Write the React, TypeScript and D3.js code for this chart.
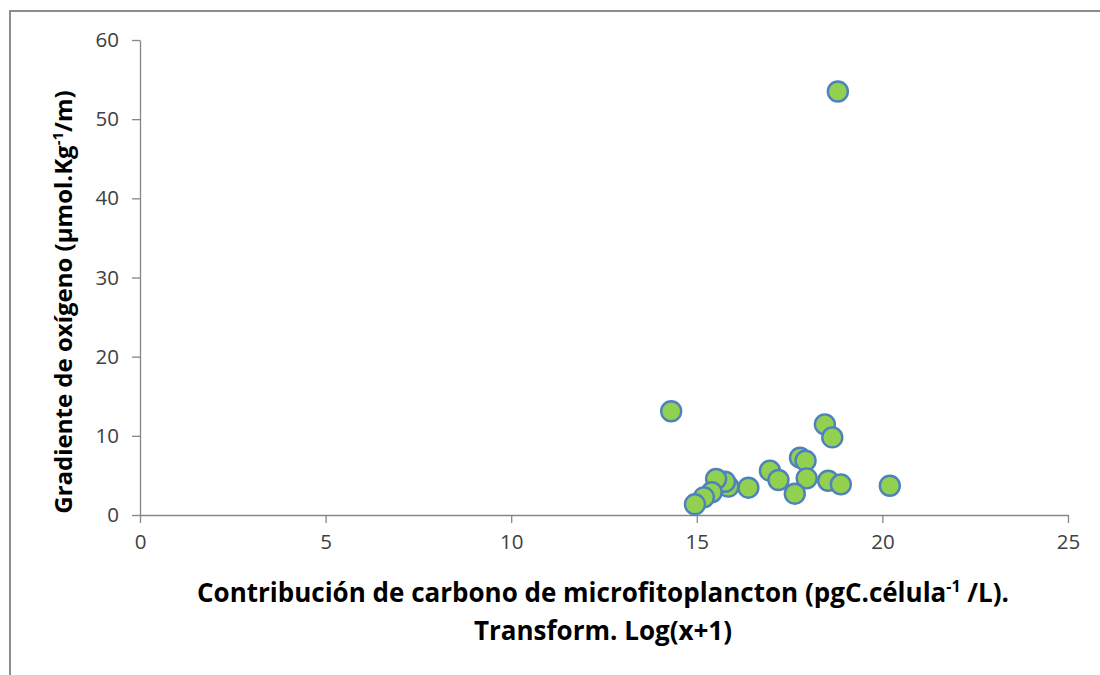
import React, { useEffect, useRef } from 'react'
import * as d3 from 'd3'

// Contribución de carbono (log(x+1)) vs gradiente de oxígeno
const carbon = [
  18.8, 14.31, 18.45, 18.65, 17.78, 17.93, 16.97, 17.2, 17.96, 18.54, 18.88,
  20.2, 17.64, 16.39, 15.85, 15.76, 15.52, 15.4, 15.19, 14.95,
]
const oxygen = [
  53.5, 13.1, 11.45, 9.8, 7.24, 6.86, 5.6, 4.42, 4.63, 4.33, 3.87, 3.7, 2.69,
  3.45, 3.58, 4.2, 4.55, 2.87, 2.23, 1.35,
]
const xTicks = [0, 5, 10, 15, 20, 25]
const yTicks = [0, 10, 20, 30, 40, 50, 60]

export default function App(): React.ReactElement {
  const chartRef = useRef<HTMLDivElement>(null)

  useEffect(() => {
    const width = 1100
    const height = 675
    const font = '"Open Sans", sans-serif'
    const axisColor = '#868686'

    const points = carbon.map((c, i) => ({ x: c, y: oxygen[i] }))

    const x = d3.scaleLinear().domain([0, 25]).range([140, 1068])
    const y = d3.scaleLinear().domain([0, 60]).range([515, 40])

    d3.select(chartRef.current).select('svg').remove()

    const svg = d3
      .select(chartRef.current)
      .append('svg')
      .attr('width', width)
      .attr('height', height)
      .attr('style', 'position:absolute;left:0;top:0;background:#fff')

    // outer frame (top and left edges visible)
    svg
      .append('path')
      .attr('d', `M10,${height + 5}V11H${width + 5}`)
      .attr('fill', 'none')
      .attr('stroke', '#8c8c8c')
      .attr('stroke-width', 2)

    const xAxis = svg
      .append('g')
      .attr('transform', `translate(0,${y(0)})`)
      .call(d3.axisBottom(x).tickValues(xTicks).tickSize(8).tickSizeOuter(0).tickPadding(11))
    xAxis.select('.domain').attr('stroke', axisColor).attr('stroke-width', 1.3)
    xAxis.selectAll('line').attr('stroke', axisColor).attr('stroke-width', 1.3)
    xAxis
      .selectAll('text')
      .attr('font-family', font)
      .attr('font-size', 20.5)
      .attr('fill', '#404040')

    const yAxis = svg
      .append('g')
      .attr('transform', `translate(${x(0)},0)`)
      .call(d3.axisLeft(y).tickValues(yTicks).tickSize(8).tickSizeOuter(0).tickPadding(13))
    yAxis.select('.domain').attr('stroke', axisColor).attr('stroke-width', 1.3)
    yAxis.selectAll('line').attr('stroke', axisColor).attr('stroke-width', 1.3)
    yAxis
      .selectAll('text')
      .attr('font-family', font)
      .attr('font-size', 20.5)
      .attr('fill', '#404040')

    svg
      .append('g')
      .selectAll('circle')
      .data(points)
      .join('circle')
      .attr('cx', (d) => x(d.x))
      .attr('cy', (d) => y(d.y))
      .attr('r', 10)
      .attr('fill', '#92D050')
      .attr('stroke', '#4F81BD')
      .attr('stroke-width', 2.4)

    // x axis title
    const xt = svg
      .append('text')
      .attr('x', 603)
      .attr('y', 602)
      .attr('text-anchor', 'middle')
      .attr('font-family', font)
      .attr('font-weight', 'bold')
      .attr('font-size', 26)
      .attr('fill', '#000')
    xt.append('tspan').text('Contribución de carbono de microfitoplancton (pgC.célula')
    xt.append('tspan').attr('dy', -10).attr('font-size', 16).text('-1')
    xt.append('tspan').attr('dy', 10).text(' /L).')

    svg
      .append('text')
      .attr('x', 603)
      .attr('y', 640)
      .attr('text-anchor', 'middle')
      .attr('font-family', font)
      .attr('font-weight', 'bold')
      .attr('font-size', 26)
      .attr('fill', '#000')
      .text('Transform. Log(x+1)')

    // y axis title
    const yt = svg
      .append('text')
      .attr('transform', `translate(72,302) rotate(-90)`)
      .attr('text-anchor', 'middle')
      .attr('font-family', font)
      .attr('font-weight', 'bold')
      .attr('font-size', 24)
      .attr('fill', '#000')
    yt.append('tspan').text('Gradiente de oxígeno (µmol.Kg')
    yt.append('tspan').attr('dy', -9).attr('font-size', 15).text('-1')
    yt.append('tspan').attr('dy', 9).text('/m)')
  }, [])

  return <div ref={chartRef}></div>
}
